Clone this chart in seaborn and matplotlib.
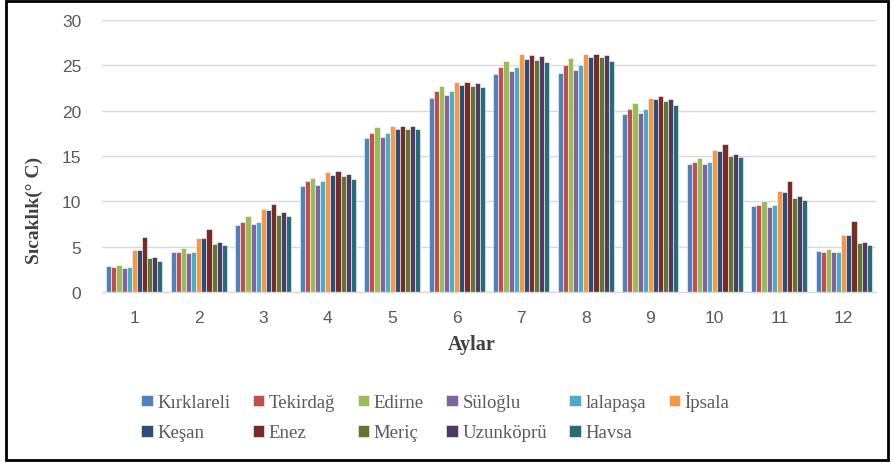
import numpy as np
import pandas as pd
import matplotlib
matplotlib.use("Agg")
import matplotlib.pyplot as plt
import seaborn as sns
from matplotlib.patches import Rectangle

# veri ======================================
aylar = [1, 2, 3, 4, 5, 6, 7, 8, 9, 10, 11, 12]
istasyonlar = ["Kırklareli", "Tekirdağ", "Edirne", "Süloğlu", "lalapaşa", "İpsala",
               "Keşan", "Enez", "Meriç", "Uzunköprü", "Havsa"]

kirklareli = [2.87, 4.37, 7.42, 11.72, 17.01, 21.35, 24.04, 24.18, 19.63, 14.08, 9.45, 4.48]
tekirdag = [2.76, 4.37, 7.75, 12.27, 17.5, 22.13, 24.8, 25.07, 20.21, 14.3, 9.56, 4.37]
edirne = [2.98, 4.8, 8.34, 12.6, 18.16, 22.68, 25.5, 25.77, 20.8, 14.77, 10.0, 4.74]
suloglu = [2.65, 4.26, 7.53, 11.83, 17.12, 21.68, 24.37, 24.5, 19.77, 14.08, 9.34, 4.37]
lalapasa = [2.76, 4.37, 7.75, 12.27, 17.5, 22.13, 24.8, 25.07, 20.21, 14.3, 9.56, 4.37]
ipsala = [4.66, 5.92, 9.11, 13.2, 18.27, 23.12, 26.2, 26.2, 21.35, 15.66, 11.14, 6.28]
kesan = [4.66, 5.92, 9.0, 12.9, 18.0, 22.79, 25.75, 25.87, 21.24, 15.55, 11.03, 6.28]
enez = [6.03, 6.95, 9.7, 13.3, 18.27, 23.12, 26.1, 26.2, 21.57, 16.35, 12.27, 7.79]
meric = [3.79, 5.26, 8.52, 12.75, 18.0, 22.68, 25.6, 25.87, 21.02, 14.99, 10.36, 5.37]
uzunkopru = [3.9, 5.48, 8.78, 12.97, 18.27, 23.01, 25.98, 26.1, 21.24, 15.2, 10.58, 5.48]
havsa = [3.46, 5.15, 8.34, 12.49, 17.94, 22.57, 25.4, 25.5, 20.65, 14.88, 10.14, 5.15]

renkler = ["#4F81BD", "#C0504D", "#9BBB59", "#8064A2", "#4BACC6", "#F79646",
           "#2C4D75", "#772C2A", "#5F7530", "#4D3B62", "#276A7C"]

seriler = [kirklareli, tekirdag, edirne, suloglu, lalapasa, ipsala,
           kesan, enez, meric, uzunkopru, havsa]

df = pd.DataFrame(
    [(ay, ist, v) for ist, s in zip(istasyonlar, seriler) for ay, v in zip(aylar, s)],
    columns=["Ay", "İstasyon", "Sıcaklık"],
)

# çizim ======================================
sns.set_style("white")
plt.rcParams["font.family"] = ["Liberation Sans", "DejaVu Sans"]
fig = plt.figure(figsize=(8.94, 4.64), dpi=100)
ax = fig.add_axes([0.1141, 0.3685, 0.8658, 0.5862])

sns.barplot(
    data=df, x="Ay", y="Sıcaklık", hue="İstasyon", order=aylar,
    hue_order=istasyonlar, palette=renkler, saturation=1, width=0.87,
    edgecolor="white", linewidth=0.4, ax=ax,
)

ax.set_ylim(0, 30)
ax.set_yticks([0, 5, 10, 15, 20, 25, 30])
ax.yaxis.grid(True, color="#D9D9D9", linewidth=1)
ax.set_axisbelow(True)
for s in ["top", "right", "left"]:
    ax.spines[s].set_visible(False)
ax.spines["bottom"].set_color("#D9D9D9")
ax.spines["bottom"].set_linewidth(1)
ax.tick_params(axis="both", length=0, labelsize=12.5, labelcolor="#595959")
ax.tick_params(axis="y", pad=15)
ax.tick_params(axis="x", pad=13)

serif = "Liberation Serif"
ax.set_ylabel("Sıcaklık(° C)", fontfamily=serif, fontweight="bold", fontsize=14, color="#404040")
ax.yaxis.set_label_coords(-0.076, 0.305)
ax.set_xlabel("Aylar", fontfamily=serif, fontweight="bold", fontsize=14.5, color="#404040")
ax.xaxis.set_label_coords(0.478, -0.155)

handles, labels = ax.get_legend_handles_labels()
ax.get_legend().remove()
sira = [0, 6, 1, 7, 2, 8, 3, 9, 4, 10, 5]
leg = fig.legend(
    [handles[i] for i in sira], [labels[i] for i in sira],
    ncol=6, loc="center", bbox_to_anchor=(0.487, 0.101), frameon=False,
    prop={"family": serif, "size": 13.5}, handlelength=0.6, handleheight=0.6,
    handletextpad=0.25, columnspacing=1.2, labelspacing=0.7, labelcolor="#595959",
)

# çerçeve
fig.patches.append(Rectangle((0.007, 0.006), 0.986, 0.99, transform=fig.transFigure,
                             fill=False, edgecolor="black", linewidth=2))

fig.savefig("out.png", dpi=100)
